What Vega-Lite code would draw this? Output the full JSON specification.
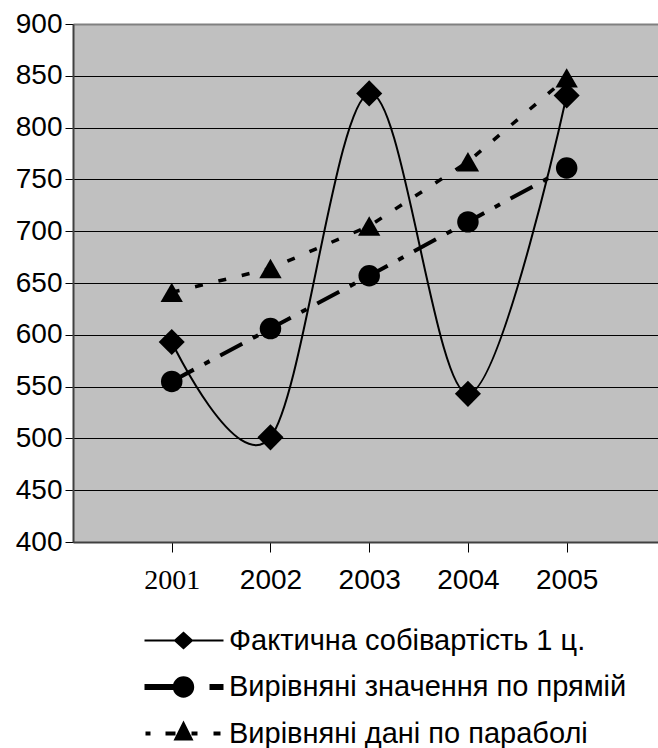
{
  "$schema": "https://vega.github.io/schema/vega-lite/v6.json",
  "width": 585,
  "height": 518,
  "autosize": "none",
  "padding": {"left": 73, "top": 24, "right": 0, "bottom": 206},
  "background": "white",
  "config": {
    "view": {"fill": "#c0c0c0", "stroke": null},
    "font": "Liberation Sans"
  },
  "data": {
    "values": [
      {"year": 2001, "series": "Фактична собівартість 1 ц.", "value": 593},
      {"year": 2002, "series": "Фактична собівартість 1 ц.", "value": 501},
      {"year": 2003, "series": "Фактична собівартість 1 ц.", "value": 833},
      {"year": 2004, "series": "Фактична собівартість 1 ц.", "value": 543},
      {"year": 2005, "series": "Фактична собівартість 1 ц.", "value": 831},
      {"year": 2001, "series": "Вирівняні значення по прямій", "value": 555},
      {"year": 2002, "series": "Вирівняні значення по прямій", "value": 606},
      {"year": 2003, "series": "Вирівняні значення по прямій", "value": 657},
      {"year": 2004, "series": "Вирівняні значення по прямій", "value": 709},
      {"year": 2005, "series": "Вирівняні значення по прямій", "value": 761},
      {"year": 2001, "series": "Вирівняні дані по параболі", "value": 641},
      {"year": 2002, "series": "Вирівняні дані по параболі", "value": 664},
      {"year": 2003, "series": "Вирівняні дані по параболі", "value": 705},
      {"year": 2004, "series": "Вирівняні дані по параболі", "value": 767},
      {"year": 2005, "series": "Вирівняні дані по параболі", "value": 848}
    ]
  },
  "encoding": {
    "x": {
      "field": "year",
      "type": "quantitative",
      "scale": {"domain": [2000, 2005.925], "nice": false, "zero": false},
      "axis": {
        "title": null,
        "values": [2001, 2002, 2003, 2004, 2005],
        "format": "d",
        "grid": false,
        "domainColor": "#404040",
        "domainWidth": 2,
        "tickColor": "black",
        "tickSize": 10,
        "tickWidth": 1,
        "labelFontSize": 28,
        "labelColor": "black",
        "labelPadding": 14,
        "labelFont": {"condition": {"test": "datum.value === 2001", "value": "Liberation Serif"}, "value": "Liberation Sans"}
      }
    },
    "y": {
      "field": "value",
      "type": "quantitative",
      "scale": {"domain": [400, 900], "nice": false, "zero": false},
      "axis": {
        "title": null,
        "values": [400, 450, 500, 550, 600, 650, 700, 750, 800, 850, 900],
        "grid": true,
        "gridColor": {"condition": {"test": "datum.value === 900", "value": "#808080"}, "value": "black"},
        "gridWidth": {"condition": {"test": "datum.value === 900", "value": 2}, "value": 1},
        "gridOpacity": 1,
        "domainColor": "#404040",
        "domainWidth": 2,
        "tickColor": "black",
        "tickSize": 8,
        "tickWidth": 1,
        "labelFontSize": 28,
        "labelColor": "black",
        "labelPadding": 3,
        "labelFont": "Liberation Sans"
      }
    }
  },
  "layer": [
    {
      "transform": [{"filter": "datum.series === 'Фактична собівартість 1 ц.'"}],
      "mark": {"type": "line", "interpolate": "cardinal", "color": "black", "strokeWidth": 2}
    },
    {
      "transform": [{"filter": "datum.series === 'Вирівняні значення по прямій'"}],
      "mark": {"type": "line", "color": "black", "strokeWidth": 4, "strokeDash": [25, 12, 6, 12], "strokeCap": "butt"}
    },
    {
      "transform": [{"filter": "datum.series === 'Вирівняні дані по параболі'"}],
      "mark": {"type": "line", "color": "black", "strokeWidth": 3.5, "strokeDash": [8, 16], "strokeCap": "butt"}
    },
    {
      "mark": {"type": "point", "filled": true, "color": "black", "opacity": 1},
      "encoding": {
        "shape": {
          "condition": [
            {"test": "datum.series === 'Фактична собівартість 1 ц.'", "value": "diamond"},
            {"test": "datum.series === 'Вирівняні значення по прямій'", "value": "circle"}
          ],
          "value": "triangle-up"
        },
        "size": {
          "condition": [
            {"test": "datum.series === 'Фактична собівартість 1 ц.'", "value": 680},
            {"test": "datum.series === 'Вирівняні значення по прямій'", "value": 462}
          ],
          "value": 500
        }
      }
    },
    {
      "mark": {"type": "point", "filled": true, "color": "black", "opacity": 0, "size": 4},
      "encoding": {
        "shape": {
          "field": "series",
          "type": "nominal",
          "scale": {
            "domain": ["Фактична собівартість 1 ц.", "Вирівняні значення по прямій", "Вирівняні дані по параболі"],
            "range": [
              "M-39,-1H40V1H-39ZM-10,0L0,-9L10,0L0,9Z",
              "M-39,-3H-8V3H-39ZM-10.7,0A10.7,10.7,0,1,1,10.7,0A10.7,10.7,0,1,1,-10.7,0ZM26,-3H40V3H26Z",
              "M-38,-2H-33V2H-38ZM-18,-2H-8V2H-18ZM0,-13L10,7L-10,7ZM8,-2H14V2H8ZM30,-2H37V2H30Z"
            ]
          },
          "legend": {
            "title": null,
            "orient": "none",
            "legendX": 96,
            "legendY": 602,
            "direction": "vertical",
            "symbolSize": 4,
            "symbolOpacity": 1,
            "symbolFillColor": "black",
            "symbolStrokeColor": "black",
            "symbolStrokeWidth": 0,
            "labelFont": "Liberation Sans",
            "labelFontSize": 29,
            "labelColor": "black",
            "labelLimit": 600,
            "labelOffset": 31,
            "rowPadding": 16.5,
            "encode": {
              "symbols": {
                "update": {
                  "opacity": {"value": 1},
                  "fill": {"value": "black"},
                  "fillOpacity": {"value": 1}
                }
              }
            }
          }
        }
      }
    }
  ]
}
